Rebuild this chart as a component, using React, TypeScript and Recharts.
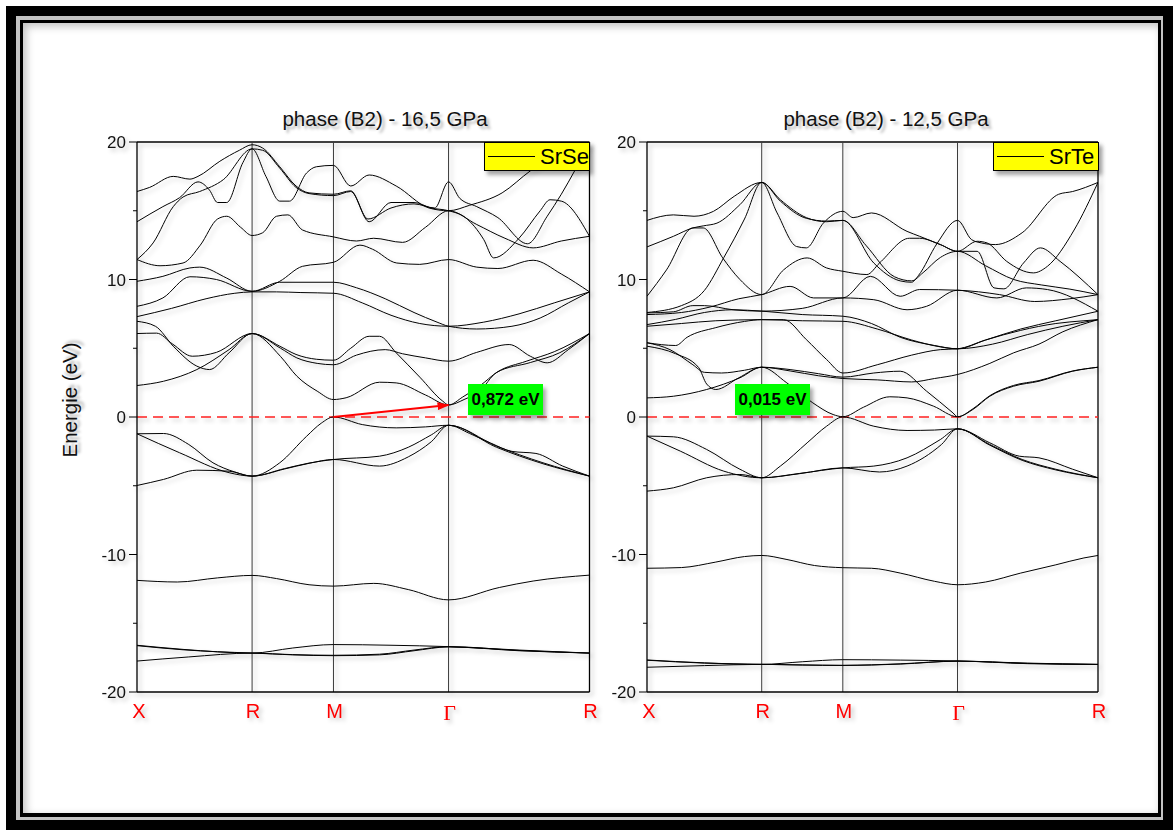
import React from 'react';
import { LineChart, Line, XAxis, YAxis, ReferenceLine } from 'recharts';

// Path X-R-M-Γ-R of the simple cubic zone; segment lengths in units of 2π/a
const segmentLengths = [0.7071, 0.5, 0.7071, 0.866];
const symmetryLabels = ['X', 'R', 'M', 'Γ', 'R'];
const energyTicks = [-20, -15, -10, -5, 0, 5, 10, 15, 20];
const energyDomain = [-20, 20];

// Band points are [t, E]: t = segment index + fraction along the segment, E in eV
const srseSemicore1 = [[0, -16.6], [0.4, -16.9], [1, -17.17], [1.5, -16.8], [2, -16.55], [2.5, -16.6], [3, -16.7], [3.5, -16.95], [4, -17.17]];
const srseSemicore2 = [[0, -16.63], [0.4, -16.93], [1, -17.17], [1.5, -17.28], [2, -17.33], [2.4, -17.25], [2.7, -16.95], [3, -16.7], [3.5, -16.98], [4, -17.17]];
const srseSemicore3 = [[0, -17.75], [0.45, -17.45], [1, -17.17], [1.5, -17.3], [2, -17.36], [2.4, -17.3], [2.7, -17.0], [3, -16.72], [3.5, -17.0], [4, -17.17]];
const srseAnionS = [[0, -11.88], [0.35, -12.0], [0.7, -11.7], [1, -11.52], [1.3, -11.75], [1.7, -12.2], [2, -12.3], [2.35, -12.1], [2.65, -12.55], [3, -13.3], [3.36, -12.4], [3.6, -11.93], [4, -11.5]];
const srseVal1 = [[0, -1.22], [0.23, -1.2], [0.45, -2.0], [0.66, -3.33], [0.85, -4.0], [1, -4.3], [1.34, -3.33], [1.67, -1.4], [1.85, -0.45], [2, 0], [2.25, -0.55], [2.545, -0.79], [2.8, -0.72], [3, -0.6], [3.15, -1.2], [3.3, -1.9], [3.45, -2.5], [3.62, -2.65], [3.81, -3.57], [4, -4.3]];
const srseVal2 = [[0, -1.22], [0.37, -2.6], [0.8, -4.05], [1, -4.3], [1.4, -3.75], [1.7, -3.35], [2, -3.09], [2.4, -2.85], [2.65, -2.2], [2.85, -1.3], [3, -0.6], [3.34, -2.12], [3.67, -3.33], [4, -4.3]];
const srseVal3 = [[0, -4.98], [0.23, -4.54], [0.52, -3.87], [0.8, -3.94], [1, -4.3], [1.4, -3.78], [1.7, -3.37], [2, -3.09], [2.4, -3.57], [2.65, -2.9], [2.85, -1.8], [3, -0.6], [3.34, -2.2], [3.67, -3.4], [4, -4.3]];
const srseCond1 = [[0, 2.29], [0.23, 2.6], [0.52, 3.45], [0.8, 4.9], [1, 6.07], [1.35, 4.4], [1.55, 2.97], [1.8, 1.88], [2, 1.27], [2.11, 1.4], [2.4, 2.53], [2.545, 2.48], [2.8, 1.6], [3, 0.872], [3.11, 1.27], [3.22, 1.88], [3.34, 3.23], [3.58, 3.96], [3.79, 4.68], [4, 6.07]];
const srseCond2 = [[0, 6.07], [0.17, 6.1], [0.31, 5.3], [0.48, 4.42], [0.69, 4.7], [1, 6.07], [1.34, 5.15], [1.54, 4.55], [1.79, 4.2], [2, 4.13], [2.15, 5.0], [2.31, 5.87], [2.4, 5.87], [2.545, 4.67], [2.75, 2.9], [2.95, 1.15], [3, 0.872], [3.1, 1.45], [3.22, 2.25], [3.35, 3.3], [3.55, 4.05], [3.75, 4.75], [4, 6.07]];
const srseCond3 = [[0, 6.96], [0.16, 6.6], [0.315, 5.15], [0.52, 3.7], [0.63, 3.45], [0.8, 4.67], [1, 6.07], [1.35, 5.0], [1.55, 4.3], [1.8, 3.9], [2, 3.8], [2.2, 4.5], [2.45, 4.9], [2.6, 4.6], [2.8, 4.3], [3, 4.06], [3.2, 4.7], [3.43, 5.27], [3.58, 4.42], [3.7, 3.94], [3.85, 4.9], [4, 6.07]];
const srseCond4 = [[0, 7.3], [0.3, 7.9], [0.6, 8.6], [0.85, 9.0], [1, 9.1], [1.3, 9.1], [1.6, 9.05], [2, 9.0], [2.25, 8.3], [2.5, 7.4], [2.75, 6.8], [3, 6.6], [3.25, 6.9], [3.5, 7.5], [3.75, 8.3], [4, 9.1]];
const srseCond5 = [[0, 8.05], [0.225, 8.66], [0.46, 10.2], [0.69, 10.0], [1, 9.14], [1.34, 9.8], [2, 9.8], [2.2, 9.4], [2.45, 8.6], [2.7, 7.6], [2.9, 6.9], [3, 6.6], [3.2, 6.4], [3.45, 6.6], [3.65, 7.2], [3.85, 8.3], [4, 9.1]];
const srseCond6 = [[0, 9.87], [0.225, 10.23], [0.46, 10.84], [0.545, 10.9], [0.78, 10.1], [1, 9.14], [1.34, 9.87], [1.62, 10.96], [2, 11.25], [2.23, 12.5], [2.34, 12.2], [2.55, 11.2], [2.75, 11.1], [3, 11.45], [3.2, 10.9], [3.35, 10.8], [3.6, 11.4], [3.8, 10.4], [4, 9.1]];
const srseCond7 = [[0, 11.45], [0.14, 12.66], [0.315, 15.3], [0.4, 16.0], [0.545, 16.4], [0.75, 17.26], [1, 19.5], [1.17, 17.5], [1.34, 15.7], [1.46, 15.7], [1.67, 17.75], [1.79, 18.2], [2, 18.3], [2.15, 16.8], [2.31, 17.6], [2.545, 16.8], [2.83, 15.2], [3, 15.0], [3.15, 15.4], [3.38, 16.3], [3.58, 17.9], [3.81, 19.4], [4, 19.8]];
const srseCond8 = [[0, 14.2], [0.225, 15.3], [0.37, 15.95], [0.53, 17.1], [0.63, 16.5], [0.7, 15.6], [0.78, 15.6], [0.92, 18.5], [1, 19.5], [1.13, 19.4], [1.34, 18.1], [1.54, 16.7], [1.7, 16.25], [2, 16.1], [2.15, 16.4], [2.31, 14.2], [2.5, 15.6], [2.7, 15.6], [2.85, 15.2], [3, 15.0], [3.12, 14.5], [3.25, 12.9], [3.32, 11.57], [3.5, 13.0], [3.65, 15.0], [3.72, 15.8], [3.8, 15.7], [4, 13.14]];
const srseCond9 = [[0, 16.4], [0.11, 16.7], [0.315, 17.5], [0.46, 17.3], [0.53, 17.5], [0.72, 18.6], [0.89, 19.4], [1, 19.8], [1.13, 19.56], [1.34, 18.2], [1.54, 16.8], [1.7, 16.3], [2, 16.2], [2.15, 16.45], [2.3, 14.4], [2.5, 15.2], [2.7, 15.5], [2.88, 15.2], [3, 17.1], [3.08, 15.9], [3.2, 15.3], [3.35, 14.5], [3.56, 12.6], [3.7, 14.6], [3.8, 16.2], [3.9, 18.0], [4, 19.9]];
const srseCond10 = [[0, 11.45], [0.2, 11.0], [0.4, 11.2], [0.55, 12.5], [0.7, 14.4], [0.78, 14.6], [0.9, 13.8], [1, 13.2], [1.13, 13.4], [1.3, 14.6], [1.44, 14.7], [1.62, 13.6], [2, 13.1], [2.2, 12.8], [2.35, 13.0], [2.6, 12.7], [2.8, 13.8], [3, 15.0], [3.2, 14.0], [3.4, 13.0], [3.6, 12.3], [3.8, 12.8], [4, 13.14]];

const srteSemicore1 = [[0, -17.67], [0.5, -17.88], [1, -17.99], [1.5, -17.8], [2, -17.65], [2.5, -17.68], [3, -17.74], [3.5, -17.9], [4, -17.99]];
const srteSemicore2 = [[0, -17.69], [0.5, -17.9], [1, -17.99], [1.5, -18.03], [2, -18.06], [2.5, -17.95], [3, -17.75], [3.5, -17.92], [4, -17.99]];
const srteSemicore3 = [[0, -18.2], [0.5, -18.08], [1, -17.99], [1.5, -18.04], [2, -18.07], [2.5, -17.97], [3, -17.76], [3.5, -17.94], [4, -18.0]];
const srteAnionS = [[0, -11.0], [0.3, -10.95], [0.6, -10.55], [0.85, -10.15], [1, -10.07], [1.3, -10.35], [1.65, -10.8], [2, -10.96], [2.25, -11.0], [2.5, -11.35], [2.8, -11.95], [3, -12.2], [3.2, -12.0], [3.45, -11.35], [3.7, -10.75], [3.9, -10.25], [4, -10.07]];
const srteVal1 = [[0, -1.39], [0.23, -1.44], [0.52, -2.36], [0.81, -3.8], [1, -4.42], [1.23, -3.57], [1.56, -1.88], [1.8, -0.67], [2, 0], [2.27, -0.67], [2.56, -0.98], [2.8, -0.95], [3, -0.86], [3.23, -1.88], [3.44, -2.85], [3.58, -2.97], [3.82, -3.8], [4, -4.42]];
const srteVal2 = [[0, -1.39], [0.29, -2.48], [0.67, -3.94], [1, -4.42], [1.47, -4.1], [2, -3.7], [2.27, -3.57], [2.56, -2.97], [2.85, -1.64], [3, -0.86], [3.23, -2.0], [3.46, -3.09], [3.7, -3.8], [4, -4.42]];
const srteVal3 = [[0, -5.39], [0.23, -5.15], [0.52, -4.42], [0.81, -4.18], [1, -4.42], [1.47, -4.12], [2, -3.7], [2.32, -4.0], [2.56, -3.57], [2.86, -2.0], [3, -0.86], [3.23, -2.05], [3.46, -3.15], [3.7, -3.85], [4, -4.42]];
const srteCond1 = [[0, 1.39], [0.23, 1.51], [0.52, 2.0], [0.81, 2.85], [1, 3.62], [1.31, 2.48], [1.63, 1.03], [1.88, 0.18], [2, 0.02], [2.18, 0.71], [2.41, 1.47], [2.56, 1.39], [2.79, 0.79], [3, 0.015], [3.11, 0.55], [3.23, 1.51], [3.4, 2.24], [3.58, 2.6], [3.82, 3.33], [4, 3.62]];
const srteCond2 = [[0, 5.4], [0.2, 4.9], [0.4, 3.8], [0.5, 3.25], [0.65, 3.2], [0.85, 3.4], [1, 3.62], [1.35, 3.45], [1.7, 3.15], [2, 2.9], [2.27, 3.2], [2.5, 3.33], [2.73, 1.88], [2.96, 0.3], [3, 0.015], [3.11, 0.6], [3.23, 1.55], [3.4, 2.3], [3.58, 2.65], [3.82, 3.35], [4, 3.62]];
const srteCond3 = [[0, 5.15], [0.25, 4.6], [0.45, 3.6], [0.52, 2.4], [0.6, 2.0], [0.8, 2.85], [1, 3.62], [1.35, 3.35], [1.7, 3.0], [2, 2.8], [2.3, 2.7], [2.6, 2.55], [2.8, 2.8], [3, 3.09], [3.23, 3.9], [3.4, 4.67], [3.58, 5.3], [3.75, 6.2], [4, 7.08]];
const srteCond4 = [[0, 5.4], [0.25, 5.2], [0.35, 5.8], [0.6, 6.5], [0.85, 6.95], [1, 7.08], [1.27, 7.08], [1.55, 5.63], [1.8, 4.18], [2, 3.2], [2.3, 3.8], [2.6, 4.5], [2.85, 4.9], [3, 4.96], [3.2, 5.6], [3.45, 6.3], [3.7, 6.8], [3.9, 7.0], [4, 7.08]];
const srteCond5 = [[0, 6.6], [0.3, 6.8], [0.6, 7.0], [1, 7.08], [1.5, 7.0], [2, 6.96], [2.3, 6.4], [2.6, 5.6], [2.85, 5.1], [3, 4.96], [3.25, 5.3], [3.5, 6.0], [3.75, 6.6], [4, 7.08]];
const srteCond6 = [[0, 6.72], [0.25, 7.1], [0.5, 7.6], [0.75, 7.8], [1, 7.7], [1.5, 7.45], [2, 7.33], [2.25, 6.8], [2.5, 5.8], [2.8, 5.2], [3, 4.96], [3.2, 5.6], [3.45, 6.4], [3.7, 7.0], [4, 7.69]];
const srteCond7 = [[0, 7.57], [0.23, 7.65], [0.4, 8.1], [0.5, 8.1], [0.75, 7.8], [1, 7.7], [1.5, 7.9], [2, 8.66], [2.27, 8.53], [2.56, 7.8], [2.73, 8.05], [3, 9.22], [3.28, 8.66], [3.49, 9.39], [3.64, 9.27], [4, 7.69]];
const srteCond8 = [[0, 7.45], [0.3, 7.6], [0.55, 8.0], [0.8, 8.6], [1, 8.9], [1.35, 9.5], [1.64, 8.66], [2, 8.66], [2.24, 10.23], [2.5, 8.78], [2.67, 9.27], [3, 9.22], [3.3, 8.9], [3.55, 8.4], [3.8, 8.6], [4, 8.9]];
const srteCond9 = [[0, 8.78], [0.17, 10.7], [0.4, 13.75], [0.49, 13.75], [0.66, 11.57], [0.81, 10.0], [1, 8.9], [1.27, 10.7], [1.56, 11.57], [1.8, 10.84], [2, 10.6], [2.21, 10.36], [2.32, 11.2], [2.58, 13.0], [2.67, 13.0], [2.85, 12.54], [3, 12.05], [3.14, 12.78], [3.21, 12.66], [3.35, 11.32], [3.54, 10.48], [3.64, 10.96], [3.83, 13.6], [4, 17.06]];
const srteCond10 = [[0, 12.37], [0.23, 13.14], [0.4, 13.75], [0.49, 13.9], [0.61, 14.1], [0.81, 15.44], [1, 17.06], [1.19, 14.84], [1.43, 12.4], [1.55, 12.3], [1.76, 14.1], [2, 14.96], [2.09, 14.5], [2.25, 14.84], [2.56, 13.5], [2.67, 13.14], [2.85, 12.54], [3, 12.05], [3.14, 12.05], [3.26, 9.39], [3.33, 9.32], [3.47, 11.2], [3.59, 12.3], [3.73, 11.32], [4, 8.9]];
const srteCond11 = [[0, 14.3], [0.23, 14.7], [0.41, 14.6], [0.58, 14.96], [0.76, 16.05], [1, 17.06], [1.23, 15.8], [1.55, 14.5], [1.8, 14.2], [2, 14.3], [2.27, 11.2], [2.5, 9.9], [2.6, 9.8], [2.66, 10.3], [2.82, 12.6], [3, 14.3], [3.1, 12.9], [3.17, 12.66], [3.27, 12.54], [3.46, 13.4], [3.72, 16.2], [3.82, 16.4], [4, 17.06]];
const srteCond12 = [[0, 7.6], [0.3, 8.1], [0.5, 9.2], [0.67, 11.6], [0.85, 14.4], [1, 17.06], [1.23, 15.7], [1.55, 14.45], [1.8, 14.25], [2, 14.3], [2.2, 12.5], [2.45, 10.2], [2.6, 9.9], [2.7, 10.5], [2.85, 11.6], [3, 12.05], [3.2, 11.0], [3.4, 10.0], [3.6, 9.6], [3.8, 9.3], [4, 8.9]];

const srseBands = [srseSemicore1, srseSemicore2, srseSemicore3, srseAnionS, srseVal1, srseVal2, srseVal3, srseCond1, srseCond2, srseCond3, srseCond4, srseCond5, srseCond6, srseCond7, srseCond8, srseCond9, srseCond10];
const srteBands = [srteSemicore1, srteSemicore2, srteSemicore3, srteAnionS, srteVal1, srteVal2, srteVal3, srteCond1, srteCond2, srteCond3, srteCond4, srteCond5, srteCond6, srteCond7, srteCond8, srteCond9, srteCond10, srteCond11, srteCond12];

// Gap arrow for SrSe: valence maximum at M to conduction minimum at Γ
const srseGapArrow = [[2, 0], [3, 0.872]];

// path coordinate t -> wavevector distance k
const toK = (t: number) => {
  const seg = Math.min(Math.floor(t), 3);
  let k = 0;
  for (let j = 0; j < seg; j++) k += segmentLengths[j];
  return k + (t - seg) * segmentLengths[seg];
};
const kSymmetry = [0, 1, 2, 3, 4].map(toK);
const kEnd = kSymmetry[4];
const toSeries = (band: number[][]) => band.map(([t, e]) => ({ k: toK(t), e }));

const SANS = '"Liberation Sans", Arial, sans-serif';
const SERIF = '"Liberation Serif", "Times New Roman", serif';

// chart layout (px)
const CHART_W = 600;
const CHART_H = 760;
const Y_AXIS_W = 40;
const MARGIN_LEFT = 97;
const MARGIN_TOP = 142;
const X_AXIS_H = 30;
const MARGIN_BOTTOM = 38;
const AXIS_X = MARGIN_LEFT + Y_AXIS_W;
const AXIS_Y = CHART_H - MARGIN_BOTTOM - X_AXIS_H;

function EnergyTick(props: any) {
  const { y, payload } = props;
  const major = payload.value % 10 === 0;
  return (
    <g>
      <line x1={AXIS_X - (major ? 8 : 4)} x2={AXIS_X} y1={y} y2={y} stroke="#000" strokeWidth={1} />
      {major && (
        <text x={AXIS_X - 11} y={y} dy="0.36em" textAnchor="end" fontSize={17} fontFamily={SANS} fill="#111">
          {payload.value}
        </text>
      )}
    </g>
  );
}

function PointTick(props: any) {
  const { x, payload } = props;
  let idx = 0;
  kSymmetry.forEach((k, i) => {
    if (Math.abs(k - payload.value) < Math.abs(kSymmetry[idx] - payload.value)) idx = i;
  });
  const label = symmetryLabels[idx];
  const gamma = label === 'Γ';
  return (
    <text x={x + (idx === 0 ? 2 : 1)} y={AXIS_Y + (gamma ? 28 : 26)} textAnchor="middle" fontSize={gamma ? 22 : 20} fontFamily={gamma ? SERIF : SANS} fill="#ff0000">
      {label}
    </text>
  );
}

function BandPanel({ bands, arrow, left, rightMargin }: any) {
  return (
    <div style={{ position: 'absolute', left, top: 0, width: CHART_W, height: CHART_H, filter: 'drop-shadow(3px 3px 2px rgba(0,0,0,0.22))' }}>
      <LineChart width={CHART_W} height={CHART_H} margin={{ top: MARGIN_TOP, right: rightMargin, bottom: MARGIN_BOTTOM, left: MARGIN_LEFT }}>
        <XAxis type="number" dataKey="k" domain={[0, kEnd]} ticks={kSymmetry} interval={0} tick={<PointTick />} tickLine={false} axisLine={{ stroke: '#000', strokeWidth: 1.3 }} height={X_AXIS_H} allowDataOverflow />
        <YAxis type="number" dataKey="e" domain={energyDomain} ticks={energyTicks} interval={0} tick={<EnergyTick />} tickLine={false} axisLine={{ stroke: '#000', strokeWidth: 1.3 }} width={Y_AXIS_W} allowDataOverflow />
        <ReferenceLine y={energyDomain[1]} stroke="#000" strokeWidth={1.3} />
        <ReferenceLine x={kEnd} stroke="#000" strokeWidth={1.3} />
        {kSymmetry.slice(1, 4).map((k) => (
          <ReferenceLine key={k} x={k} stroke="#3a3a3a" strokeWidth={1} />
        ))}
        <ReferenceLine y={0} stroke="#ff2020" strokeWidth={1.6} strokeDasharray="10 6" />
        {bands.map((band: number[][], i: number) => (
          <Line key={i} data={toSeries(band)} dataKey="e" type="monotone" stroke="#000" strokeWidth={1} dot={false} activeDot={false} isAnimationActive={false} />
        ))}
        {arrow && (
          <Line data={toSeries(arrow)} dataKey="e" type="linear" stroke="#ff0000" strokeWidth={2} dot={false} activeDot={false} markerEnd="url(#gapArrowHead)" isAnimationActive={false} />
        )}
      </LineChart>
    </div>
  );
}

const boxShadow = '3px 4px 4px rgba(0,0,0,0.35)';

function LegendBox({ left, name }: any) {
  return (
    <div style={{ position: 'absolute', left, top: 142, width: 106, height: 29, boxSizing: 'border-box', background: '#ffff00', border: '1px solid #000', boxShadow }}>
      <div style={{ position: 'absolute', left: 3, top: 13, width: 47, height: 1, background: '#000' }} />
      <div style={{ position: 'absolute', left: 55, top: 0, fontFamily: SANS, fontSize: 22, lineHeight: '28px', color: '#000' }}>{name}</div>
    </div>
  );
}

function GapLabel({ left, text }: any) {
  return (
    <div style={{ position: 'absolute', left, top: 384, width: 75, height: 31, background: '#00ff00', boxShadow, fontFamily: SANS, fontWeight: 'bold', fontSize: 17, lineHeight: '31px', textAlign: 'center', color: '#000' }}>
      {text}
    </div>
  );
}

const textShadow = '3px 3px 3px rgba(0,0,0,0.3)';
const titleStyle: any = { position: 'absolute', width: 400, top: 107, textAlign: 'center', fontFamily: SANS, fontSize: 20.5, color: '#111', textShadow, whiteSpace: 'nowrap' };

export default function App() {
  return (
    <div style={{ position: 'absolute', left: 0, top: 0, width: 1176, height: 830, background: '#fff', overflow: 'hidden' }}>
      <svg width={0} height={0} style={{ position: 'absolute' }}>
        <defs>
          <marker id="gapArrowHead" viewBox="0 0 12 8" refX="11" refY="4" markerWidth="12" markerHeight="8" markerUnits="userSpaceOnUse" orient="auto">
            <path d="M0,0 L12,4 L0,8 z" fill="#ff0000" />
          </marker>
        </defs>
      </svg>
      {/* frame */}
      <div style={{ position: 'absolute', left: 6, top: 6, width: 1167, height: 826, background: '#000' }} />
      <div style={{ position: 'absolute', left: 16, top: 16, width: 1147, height: 804, background: '#c4c4c4' }} />
      <div style={{ position: 'absolute', left: 20, top: 20, width: 1141, height: 797, background: '#000' }} />
      <div style={{ position: 'absolute', left: 23, top: 23, width: 1135, height: 790, background: '#fff', boxShadow: 'inset 3px 3px 8px rgba(0,0,0,0.25)' }} />

      <div style={{ ...titleStyle, left: 185 }}>phase (B2) - 16,5 GPa</div>
      <div style={{ ...titleStyle, left: 686 }}>phase (B2) - 12,5 GPa</div>
      <div style={{ position: 'absolute', left: 5, top: 388, width: 130, textAlign: 'center', transform: 'rotate(-90deg)', fontFamily: SANS, fontSize: 20.5, color: '#111', textShadow, whiteSpace: 'nowrap' }}>Energie (eV)</div>

      <BandPanel bands={srseBands} arrow={srseGapArrow} left={0} rightMargin={10.5} />
      <BandPanel bands={srteBands} left={510} rightMargin={12} />

      <LegendBox left={484} name="SrSe" />
      <LegendBox left={993} name="SrTe" />
      <GapLabel left={468} text="0,872 eV" />
      <GapLabel left={735} text="0,015 eV" />
    </div>
  );
}
